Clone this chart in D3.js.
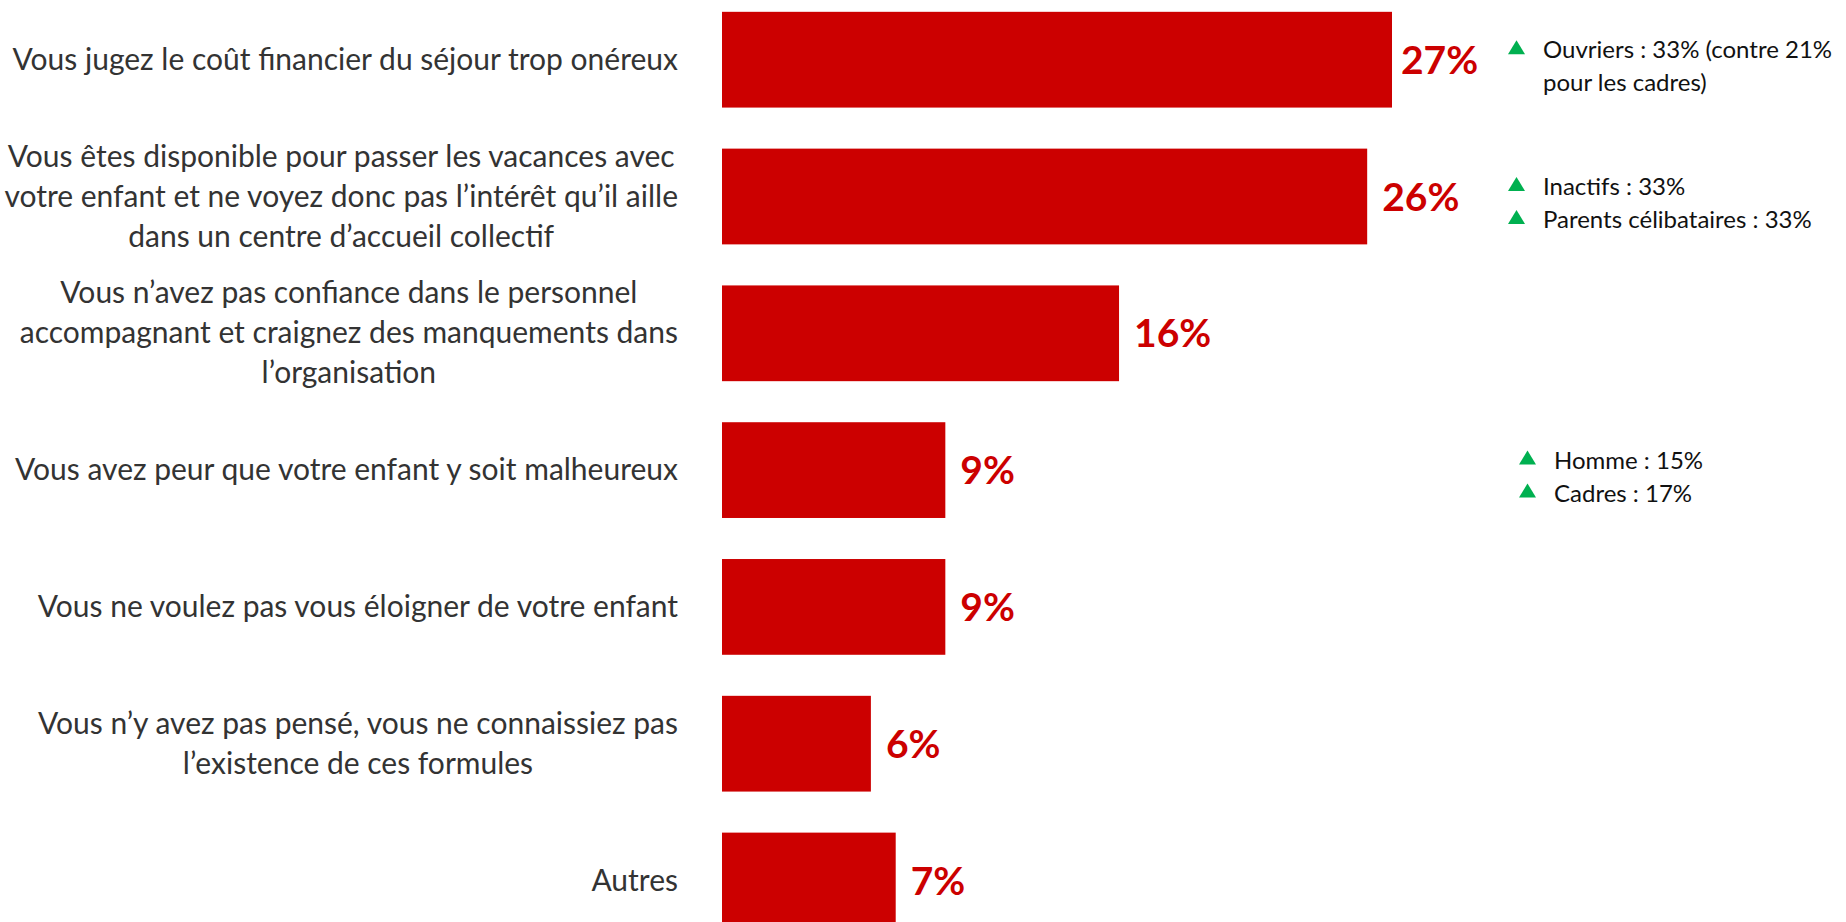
<!DOCTYPE html>
<html>
<head>
<meta charset="utf-8">
<script src="https://cdn.jsdelivr.net/npm/d3@7"></script>
<style>
  html, body { margin: 0; padding: 0; background: #fff; }
  figure { margin: 0; }
  svg { display: block; }
</style>
</head>
<body>
<figure class="reasons-chart"></figure>
<script>
// reasons for not sending the child, one array of lines per bar
const reasons = [
  ["Vous jugez le coût financier du séjour trop onéreux"],
  ["Vous êtes disponible pour passer les vacances avec",
   "votre enfant et ne voyez donc pas l’intérêt qu’il aille",
   "dans un centre d’accueil collectif"],
  ["Vous n’avez pas confiance dans le personnel",
   "accompagnant et craignez des manquements dans",
   "l’organisation"],
  ["Vous avez peur que votre enfant y soit malheureux"],
  ["Vous ne voulez pas vous éloigner de votre enfant"],
  ["Vous n’y avez pas pensé, vous ne connaissiez pas",
   "l’existence de ces formules"],
  ["Autres"]
]

const shares = [27, 26, 16, 9, 9, 6, 7]

// over-represented groups, shown next to some bars
const highlightRows = [0, 1, 3]
const highlightItems = [
  [["Ouvriers : 33% (contre 21%", "pour les cadres)"]],
  [["Inactifs :  33%"], ["Parents célibataires : 33%"]],
  [["Homme : 15%"], ["Cadres : 17%"]]
]

const width = 1846
const height = 922
const red = "#cc0000"
const green = "#00b050"

const svg = d3.select("figure.reasons-chart")
  .append("svg")
  .attr("width", width)
  .attr("height", height)

const x = d3.scaleLinear()
  .domain([0, 27])
  .range([722, 1392])

const y = d3.scaleBand()
  .domain(d3.range(reasons.length))
  .range([-8.7, 948.9])
  .paddingInner(0.3)
  .paddingOuter(0.15)

const mid = i => y(i) + y.bandwidth() / 2

// bars
svg.append("g")
  .selectAll("rect")
  .data(shares)
  .join("rect")
  .attr("x", x(0))
  .attr("y", (d, i) => y(i))
  .attr("width", d => x(d) - x(0))
  .attr("height", y.bandwidth())
  .attr("fill", red)

// value labels
svg.append("g")
  .selectAll("text")
  .data(shares)
  .join("text")
  .attr("x", (d, i) => x(d) + (i === 0 ? 9 : 15))
  .attr("y", (d, i) => mid(i) + 14)
  .attr("fill", red)
  .style("font-family", "Lato, 'Open Sans', sans-serif")
  .style("font-weight", "bold")
  .style("font-size", "39px")
  .text(d => d + "%")

// category labels: block is right aligned, lines centred inside it
const labelRight = 678
const lineStep = 40
const labels = svg.append("g")
  .style("font-family", "Lato, 'Open Sans', sans-serif")
  .style("font-size", "30px")
  .attr("fill", "#333")

labels.selectAll("g")
  .data(reasons)
  .join("g")
  .each(function (lines, i) {
    const g = d3.select(this)
    const t = g.selectAll("text")
      .data(lines)
      .join("text")
      .attr("text-anchor", "middle")
      .attr("y", (d, k) => mid(i) + (k - (lines.length - 1) / 2) * lineStep + 10)
      .text(d => d)
    const maxW = d3.max(t.nodes(), n => n.getComputedTextLength())
    t.attr("x", labelRight - maxW / 2)
  })

// highlight notes with green up triangles
const noteStep = 33
const noteX = row => row === 3 ? 1519 : 1508
const notes = svg.append("g")
  .style("font-family", "Lato, 'Open Sans', sans-serif")
  .style("font-size", "24px")
  .attr("fill", "#111")

highlightRows.forEach((row, j) => {
  const items = highlightItems[j]
  const flat = []
  items.forEach(item => item.forEach((line, k) => flat.push({ line, first: k === 0 })))
  const x0 = noteX(row)
  flat.forEach((d, k) => {
    const base = mid(row) + (k - (flat.length - 1) / 2) * noteStep + 15
    if (d.first) {
      notes.append("path")
        .attr("d", `M${x0},${base - 4} L${x0 + 17},${base - 4} L${x0 + 8.5},${base - 18} Z`)
        .attr("fill", green)
    }
    notes.append("text")
      .attr("x", x0 + 35)
      .attr("y", base)
      .text(d.line)
  })
})
</script>
</body>
</html>
